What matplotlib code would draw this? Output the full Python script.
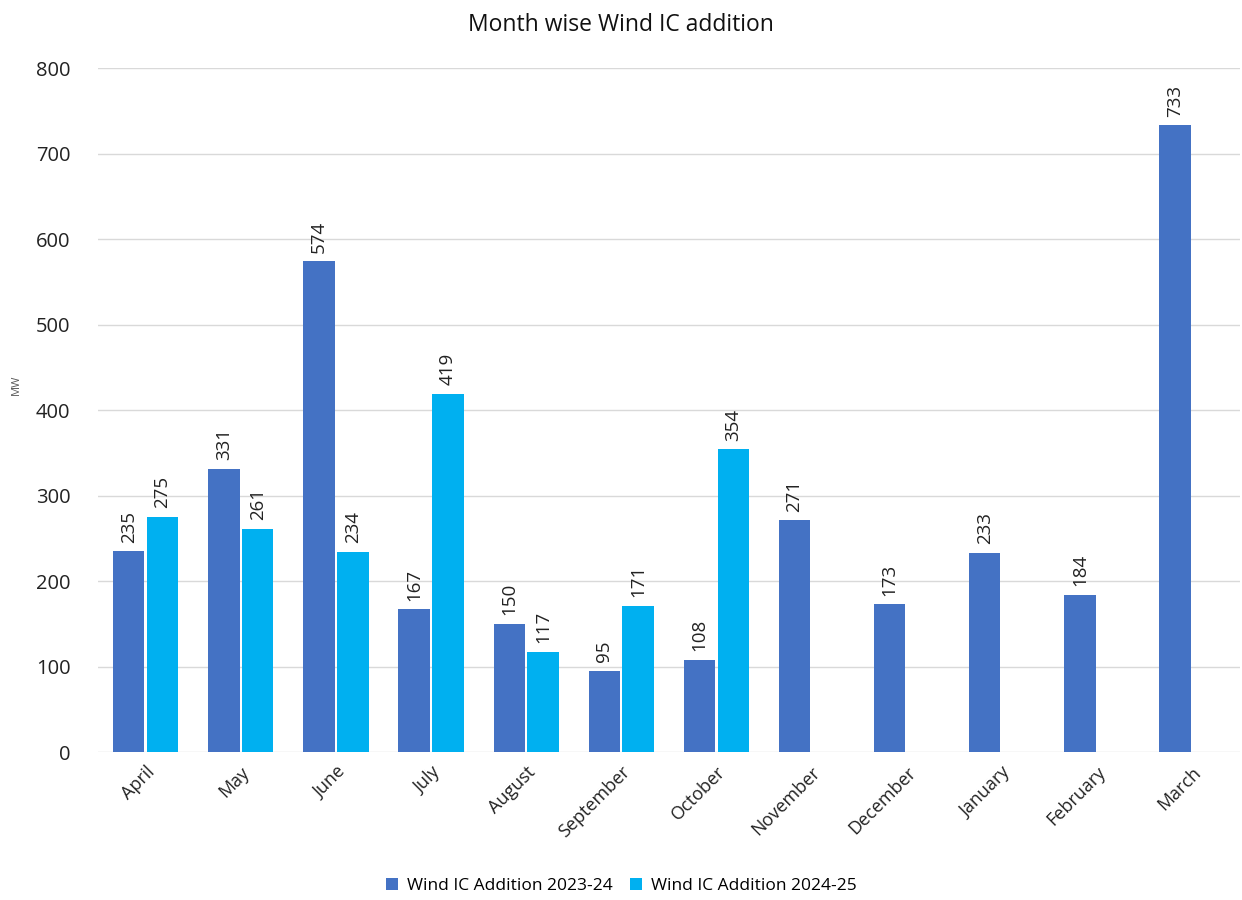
import numpy as np
import matplotlib
matplotlib.use("Agg")
import matplotlib.pyplot as plt

# 월별 데이터
months = ["April", "May", "June", "July", "August", "September", "October",
          "November", "December", "January", "February", "March"]
ic_2324 = [235, 331, 574, 167, 150, 95, 108, 271, 173, 233, 184, 733]
ic_2425 = [275, 261, 234, 419, 117, 171, 354]
series_names = ["Wind IC Addition 2023-24", "Wind IC Addition 2024-25"]
colors = ["#4472C4", "#00B0F0"]

plt.rcParams["font.family"] = ["Open Sans", "DejaVu Sans"]

fig = plt.figure(figsize=(12.42, 9), dpi=100)
ax = fig.add_axes([0.079, 0.1644, 0.919, 0.76])

x = np.arange(len(months))
w = 0.33
off = 0.178

b1 = ax.bar(x - off, ic_2324, w, color=colors[0], label=series_names[0], zorder=3)
x2 = np.arange(len(ic_2425))
b2 = ax.bar(x2 + off, ic_2425, w, color=colors[1], label=series_names[1], zorder=3)

# 막대 위 값 표시 (세로)
for bars in (b1, b2):
    for r in bars:
        ax.text(r.get_x() + r.get_width() / 2, r.get_height() + 10,
                f"{int(r.get_height())}", rotation=90, ha="center", va="bottom",
                fontsize=13.5, color="#222222")

ax.set_xlim(-0.5, len(months) - 0.5)
ax.set_ylim(0, 800)
ax.set_yticks(range(0, 801, 100))
ax.set_xticks(x)
ax.set_xticklabels(months, rotation=45, ha="right", rotation_mode="anchor",
                   fontsize=13, color="#222222")
ax.tick_params(axis="y", labelsize=14.5, colors="#222222", length=0, pad=20)
ax.tick_params(axis="x", length=0, pad=8)
ax.grid(axis="y", color="#D9D9D9", linewidth=1, zorder=0)
for s in ax.spines.values():
    s.set_visible(False)

fig.text(0.5, 0.972, "Month wise Wind IC addition", ha="center", va="center",
         fontsize=16.5, color="#111111")
fig.text(0.013, 0.572, "MW", rotation=90, ha="center", va="center",
         fontsize=8, color="#595959")

fig.legend(handles=[b1, b2], loc="center", bbox_to_anchor=(0.5, 0.016),
           ncol=2, frameon=False, fontsize=12.5, handlelength=0.7,
           handleheight=0.7, columnspacing=1.0, handletextpad=0.5)

fig.savefig("out.png", dpi=100)
